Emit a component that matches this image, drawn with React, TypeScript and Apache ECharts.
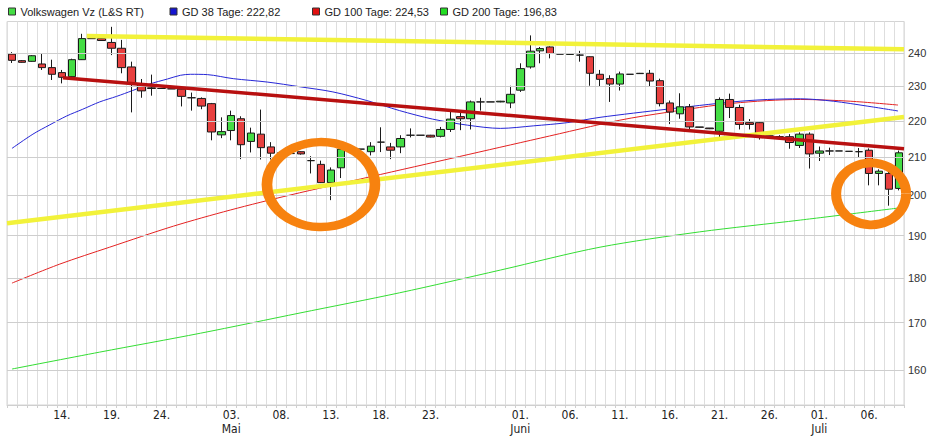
import React, { useEffect, useRef } from "react";
import * as echarts from "echarts";

// ---------- data ----------
function daysOf(month: string, from: number, to: number): string[] {
  const out: string[] = [];
  for (let d = from; d <= to; d++) out.push((d < 10 ? "0" : "") + d + "." + month + ".");
  return out;
}

// one category per plotted trading day (2021)
const categories: string[] = [
  ...daysOf("04", 9, 30),
  ...daysOf("05", 3, 31),
  ...daysOf("06", 1, 30),
  ...daysOf("07", 1, 9),
];

const tickLabels: string[] = [
  "14.04.", "19.04.", "24.04.", "03.05.", "08.05.", "13.05.", "18.05.", "23.05.",
  "01.06.", "06.06.", "11.06.", "16.06.", "21.06.", "26.06.", "01.07.", "06.07.",
];
const monthLabels: Record<string, string> = { "03.05.": "Mai", "01.06.": "Juni", "01.07.": "Juli" };

// [open, close, low, high]
const ohlc: number[][] = [
  [239.6, 237.7, 236.9, 240.2], [237.6, 237.1, 237.0, 237.8], [237.4, 239.1, 237.3, 239.3],
  [236.6, 235.5, 234.8, 239.7], [235.5, 233.5, 231.8, 237.9], [234.0, 232.6, 230.8, 234.8],
  [232.8, 237.9, 232.6, 238.2], [237.9, 244.4, 237.8, 245.9], [244.4, 244.4, 244.4, 244.4],
  [244.4, 243.8, 243.7, 244.5], [243.2, 241.4, 239.3, 248.1], [241.4, 235.5, 233.8, 244.0],
  [235.7, 230.6, 222.4, 237.3], [230.6, 228.6, 226.6, 232.1], [229.5, 229.3, 227.2, 233.4],
  [229.3, 229.3, 229.3, 229.3], [229.2, 229.2, 229.2, 229.2], [229.1, 227.0, 224.1, 230.0],
  [226.6, 226.6, 222.9, 228.1], [226.4, 224.2, 223.3, 226.7], [224.9, 216.9, 214.6, 225.1],
  [216.1, 217.0, 215.2, 221.0], [217.3, 221.5, 214.6, 222.9], [220.6, 213.4, 209.5, 221.3],
  [214.3, 216.6, 211.3, 218.1], [216.3, 212.6, 209.4, 223.2], [212.8, 211.1, 209.4, 214.1],
  [211.2, 211.0, 210.5, 211.6], [211.0, 211.0, 211.0, 211.0], [211.5, 210.9, 210.7, 211.6],
  [209.1, 209.1, 205.7, 210.3], [208.1, 203.3, 203.2, 209.1], [203.3, 206.6, 198.8, 207.3],
  [207.2, 212.2, 204.5, 212.3], [212.2, 212.2, 212.2, 212.2], [212.2, 212.2, 212.2, 212.2],
  [211.5, 213.0, 210.5, 214.1], [214.1, 214.1, 211.4, 218.2], [212.8, 211.9, 209.5, 213.9],
  [212.8, 215.1, 211.1, 216.0], [216.0, 216.0, 215.4, 217.9], [216.0, 216.0, 216.0, 216.0],
  [216.0, 215.5, 215.4, 216.1], [215.7, 217.6, 215.4, 218.3], [217.6, 220.5, 216.9, 222.7],
  [221.2, 220.6, 217.4, 222.6], [220.6, 225.4, 217.6, 225.8], [225.4, 225.4, 222.9, 226.6],
  [225.4, 225.4, 225.4, 225.4], [225.4, 225.6, 225.3, 225.7], [225.1, 227.6, 223.6, 230.1],
  [228.8, 235.2, 228.3, 236.8], [235.7, 240.5, 235.2, 245.4], [240.6, 241.3, 236.8, 241.8],
  [241.8, 239.8, 238.3, 242.0], [239.6, 239.6, 239.6, 239.6], [239.5, 239.7, 239.4, 239.8],
  [239.3, 239.3, 237.3, 240.6], [238.8, 233.8, 230.1, 238.9], [233.5, 232.0, 229.9, 234.8],
  [232.2, 230.6, 225.4, 233.2], [230.6, 233.6, 228.7, 234.3], [233.5, 233.5, 233.5, 233.5],
  [233.7, 233.8, 233.6, 233.9], [233.8, 231.5, 229.9, 234.8], [231.6, 224.9, 224.1, 232.2],
  [225.1, 222.5, 219.1, 225.8], [222.0, 224.0, 220.6, 227.9], [224.0, 218.3, 217.6, 224.8],
  [218.3, 218.2, 218.1, 218.3], [218.0, 217.8, 217.7, 218.0], [217.1, 226.1, 215.5, 226.7],
  [226.1, 223.8, 220.8, 227.8], [223.8, 219.0, 217.6, 224.6], [219.5, 219.0, 217.6, 220.5],
  [219.5, 216.3, 214.8, 219.6], [215.8, 215.8, 215.8, 215.8], [215.6, 215.6, 215.2, 216.0],
  [215.6, 214.0, 212.3, 216.3], [213.2, 216.3, 212.5, 216.8], [216.3, 210.9, 207.0, 216.8],
  [211.1, 211.7, 209.0, 212.9], [211.7, 211.7, 210.6, 212.6], [211.7, 211.7, 211.7, 211.7],
  [211.6, 211.6, 211.6, 211.6], [211.5, 211.5, 210.0, 212.5], [211.9, 205.7, 202.6, 212.4],
  [205.7, 206.3, 202.6, 206.8], [205.7, 201.6, 197.4, 206.3], [201.8, 211.2, 201.3, 211.8],
];

// moving averages: [day index, value]
const gd38: number[][] = [
  [0, 212.4], [2.1, 216.3], [3.8, 218.9], [5.5, 221.4], [7.1, 223.3], [8.8, 225.4],
  [10.5, 227.0], [12.1, 228.7], [13.8, 230.6], [15.6, 232.1], [16.9, 233.2], [17.9, 233.5],
  [19.6, 233.4], [22.2, 232.2], [25.6, 231.2], [28.9, 229.8], [32.2, 228.3], [35.6, 225.8],
  [38.9, 222.9], [42.2, 220.5], [45.7, 218.8], [49.0, 217.9], [52.3, 218.6], [55.7, 219.5],
  [59.0, 221.0], [65.7, 223.3], [72.3, 225.4], [75.8, 226.1], [79.1, 226.3], [82.4, 225.6],
  [85.8, 224.2], [88.9, 222.8],
];
const gd100: number[][] = [
  [0, 178.8], [4.8, 183.2], [9.8, 187.2], [16.2, 192.3], [21.9, 196.3], [27.9, 200.1],
  [35.9, 204.8], [44.9, 210.2], [53.0, 215.2], [61.0, 220.2], [65.7, 222.4], [72.3, 225.0],
  [79.1, 226.1], [84.1, 225.6], [88.9, 224.5],
];
const gd200: number[][] = [
  [0, 160.2], [8.8, 163.7], [18.9, 167.7], [28.9, 172.1], [38.9, 176.6], [49.0, 181.8],
  [59.0, 187.2], [69.0, 190.9], [79.1, 193.8], [88.9, 196.8],
];

// hand-drawn annotations: [day index, value]
const yellowTop: number[][] = [[7.5, 245.2], [89.5, 241.1]];
const yellowBottom: number[][] = [[-0.5, 193.0], [89.5, 221.1]];
const redTrend: number[][] = [[5.1, 232.5], [89.5, 212.3]];
const circles: number[][] = [[31.0, 202.8], [86.2, 200.4]];

const yTicks: number[] = [160, 170, 180, 190, 200, 210, 220, 230, 240];

const NAME_VW = "Volkswagen Vz (L&S RT)";
const NAME_38 = "GD 38 Tage: 222,82";
const NAME_100 = "GD 100 Tage: 224,53";
const NAME_200 = "GD 200 Tage: 196,83";

export default function App() {
  const ref = useRef<HTMLDivElement>(null);

  useEffect(() => {
    if (!ref.current) return;
    const chart = echarts.init(ref.current, undefined, { renderer: "svg" });
    const tickSet = new Set(tickLabels);

    const legendDefs = [
      { name: NAME_VW, left: 8, color: "#44dd44" },
      { name: NAME_38, left: 169.5, color: "#1515d0" },
      { name: NAME_100, left: 312, color: "#e01010" },
      { name: NAME_200, left: 440, color: "#22dd22" },
    ];

    const option: any = {
      animation: false,
      textStyle: { fontFamily: "Liberation Sans, Arial, sans-serif" },
      legend: legendDefs.map((l) => ({
        data: [
          { name: l.name, icon: "rect", itemStyle: { color: l.color, borderColor: "#333", borderWidth: 1 } },
        ],
        left: l.left,
        top: 6,
        padding: 0,
        itemWidth: 7,
        itemHeight: 7,
        selectedMode: false,
        textStyle: { fontSize: 11, color: "#222", fontFamily: "Liberation Sans, Arial, sans-serif" },
      })),
      grid: { left: 7, right: 39, top: 21.5, bottom: 35, show: true, borderColor: "#d4d4d4", borderWidth: 1 },
      xAxis: [
        {
          type: "category",
          data: categories,
          boundaryGap: true,
          axisLine: { show: true, lineStyle: { color: "#cfcfcf" } },
          axisTick: { show: true, interval: 0, length: 3, lineStyle: { color: "#cfcfcf" } },
          splitLine: { show: true, interval: 0, lineStyle: { color: "#dedede", width: 1 } },
          axisLabel: {
            interval: (_i: number, v: string) => tickSet.has(v),
            formatter: (v: string) => {
              const d = v.slice(0, 3);
              return monthLabels[v] ? d + "\n" + monthLabels[v] : d;
            },
            fontFamily: "Liberation Sans Narrow, DejaVu Sans Condensed, sans-serif",
            fontSize: 12,
            lineHeight: 14,
            color: "#222",
            margin: 3,
          },
        },
        { type: "value", min: -0.5, max: 89.5, show: false },
      ],
      yAxis: {
        type: "log",
        logBase: 10,
        min: 153,
        max: 249.8,
        position: "right",
        axisLabel: { show: false },
        splitLine: { show: false },
        axisTick: { show: false },
        axisLine: { show: false },
      },
      series: [
        {
          type: "line",
          name: "grid",
          xAxisIndex: 1,
          data: [[0, 200]],
          symbol: "none",
          lineStyle: { opacity: 0 },
          silent: true,
          z: 1,
          markLine: {
            silent: true,
            symbol: ["none", "none"],
            animation: false,
            lineStyle: { type: "solid", color: "#cecece", width: 1 },
            label: {
              show: true,
              position: "end",
              distance: 4,
              formatter: (p: any) => String(p.value),
              color: "#333",
              fontSize: 11,
              fontFamily: "Liberation Sans, Arial, sans-serif",
            },
            emphasis: { disabled: true },
            data: yTicks.map((v) => ({ yAxis: v })),
          },
        },
        {
          type: "line",
          name: NAME_200,
          xAxisIndex: 1,
          data: gd200,
          smooth: 0.3,
          symbol: "none",
          lineStyle: { color: "#33dd33", width: 1 },
          itemStyle: { color: "#33dd33" },
          z: 2,
        },
        {
          type: "line",
          name: NAME_100,
          xAxisIndex: 1,
          data: gd100,
          smooth: 0.3,
          symbol: "none",
          lineStyle: { color: "#e42222", width: 1 },
          itemStyle: { color: "#e42222" },
          z: 2,
        },
        {
          type: "line",
          name: NAME_38,
          xAxisIndex: 1,
          data: gd38,
          smooth: 0.3,
          symbol: "none",
          lineStyle: { color: "#2626d6", width: 1 },
          itemStyle: { color: "#2626d6" },
          z: 2,
        },
        {
          type: "candlestick",
          name: NAME_VW,
          data: ohlc,
          barWidth: 8,
          z: 3,
          itemStyle: {
            color: "#44dd44",
            color0: "#e8403f",
            borderColor: "#1a1a1a",
            borderColor0: "#1a1a1a",
            borderColorDoji: "#1a1a1a",
            borderWidth: 1,
          },
        },
        {
          type: "line",
          name: "trendTop",
          xAxisIndex: 1,
          data: yellowTop,
          symbol: "none",
          lineStyle: { color: "#f2f23a", width: 4.5 },
          silent: true,
          z: 5,
        },
        {
          type: "line",
          name: "trendBottom",
          xAxisIndex: 1,
          data: yellowBottom,
          symbol: "none",
          lineStyle: { color: "#f2f23a", width: 4.5 },
          silent: true,
          z: 5,
        },
        {
          type: "line",
          name: "trendRed",
          xAxisIndex: 1,
          data: redTrend,
          symbol: "none",
          lineStyle: { color: "#b81010", width: 3.5 },
          silent: true,
          z: 5,
        },
        {
          type: "scatter",
          name: "circles",
          xAxisIndex: 1,
          data: [
            { value: circles[0], symbolSize: [108, 85] },
            { value: circles[1], symbolSize: [70, 62] },
          ],
          symbol: "circle",
          clip: false,
          silent: true,
          itemStyle: { color: "rgba(0,0,0,0)", borderColor: "#f7820f", borderWidth: 9.5, opacity: 1 },
          z: 6,
        },
      ],
    };

    chart.setOption(option);
    return () => chart.dispose();
  }, []);

  return (
    <div
      ref={ref}
      style={{ position: "absolute", left: 0, top: 0, width: 943, height: 440, background: "#fff" }}
    />
  );
}
